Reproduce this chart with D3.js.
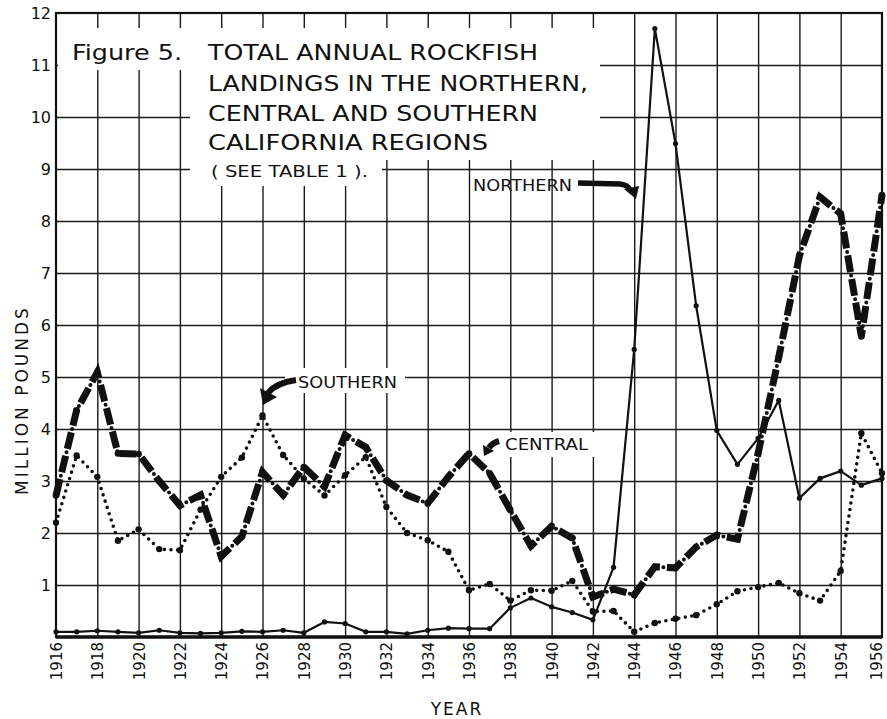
<!DOCTYPE html>
<html>
<head>
<meta charset="utf-8">
<script src="https://cdn.jsdelivr.net/npm/d3@7"></script>
<style>
  html, body { margin: 0; padding: 0; background: #fff; }
  svg text { font-family: "DejaVu Sans", sans-serif; fill: #111; }
</style>
</head>
<body>
<svg id="chart" width="887" height="719"></svg>
<script>
const years = [1916,1917,1918,1919,1920,1921,1922,1923,1924,1925,1926,1927,1928,1929,1930,1931,1932,1933,1934,1935,1936,1937,1938,1939,1940,1941,1942,1943,1944,1945,1946,1947,1948,1949,1950,1951,1952,1953,1954,1955,1956];
const northern = [0.10,0.10,0.12,0.10,0.08,0.13,0.08,0.07,0.08,0.11,0.10,0.13,0.08,0.29,0.26,0.10,0.10,0.06,0.13,0.17,0.16,0.16,0.56,0.75,0.58,0.47,0.33,1.34,5.53,11.7,9.49,6.37,3.97,3.32,3.82,4.55,2.67,3.05,3.19,2.92,3.05];
const central = [2.72,4.36,5.09,3.53,3.52,3.0,2.53,2.73,1.55,1.93,3.17,2.73,3.27,2.89,3.88,3.65,3.01,2.73,2.57,3.08,3.53,3.15,2.44,1.75,2.13,1.9,0.77,0.92,0.81,1.35,1.33,1.73,1.96,1.88,3.53,5.38,7.33,8.46,8.14,5.78,8.5];
const southern = [2.2,3.49,3.08,1.85,2.07,1.69,1.67,2.45,3.08,3.45,4.26,3.5,3.05,2.72,3.11,3.46,2.5,2.0,1.86,1.64,0.9,1.02,0.7,0.9,0.89,1.08,0.49,0.5,0.1,0.27,0.35,0.42,0.63,0.88,0.96,1.04,0.84,0.7,1.27,3.92,3.15];
const yearTicks = [1916,1918,1920,1922,1924,1926,1928,1930,1932,1934,1936,1938,1940,1942,1944,1946,1948,1950,1952,1954,1956];
const valueTicks = [1,2,3,4,5,6,7,8,9,10,11,12];
const titleLines = ["TOTAL ANNUAL ROCKFISH","LANDINGS IN THE NORTHERN,","CENTRAL AND SOUTHERN","CALIFORNIA REGIONS"];

const svg = d3.select("#chart");
const x = d3.scaleLinear().domain([1916,1956]).range([56,882]);
const y = d3.scaleLinear().domain([0,12]).range([637,13]);

// grid
const grid = svg.append("g");
grid.append("g")
  .attr("transform", `translate(0,${y(0)})`)
  .call(d3.axisBottom(x).tickValues(yearTicks.slice(1,-1)).tickSize(-(y(0)-y(12))).tickFormat(""))
  .call(g => g.select(".domain").remove())
  .call(g => g.selectAll("line").attr("stroke","#1a1a1a").attr("stroke-width",1.4));
grid.append("g")
  .attr("transform", `translate(${x(1916)},0)`)
  .call(d3.axisLeft(y).tickValues(valueTicks.slice(0,-1)).tickSize(-(x(1956)-x(1916))).tickFormat(""))
  .call(g => g.select(".domain").remove())
  .call(g => g.selectAll("line").attr("stroke","#1a1a1a").attr("stroke-width",1.4));

// white areas behind title and labels
const white = [
  [58, 28, 190, 70], [190, 28, 600, 160], [190, 160, 382, 186],
  [285, 368, 405, 393], [480, 432, 598, 457]
];
svg.append("g").selectAll("rect").data(white).join("rect")
  .attr("x", d => d[0]).attr("y", d => d[1])
  .attr("width", d => d[2]-d[0]).attr("height", d => d[3]-d[1])
  .attr("fill", "#fff");

// frame
svg.append("rect").attr("x", x(1916)).attr("y", y(12))
  .attr("width", x(1956)-x(1916)).attr("height", y(0)-y(12))
  .attr("fill","none").attr("stroke","#111").attr("stroke-width",2.2);
svg.append("line").attr("x1", x(1916)).attr("x2", x(1956)).attr("y1", y(0)).attr("y2", y(0))
  .attr("stroke","#111").attr("stroke-width",3.5);

// axes labels
const xAxis = svg.append("g").attr("transform", `translate(0,${y(0)})`)
  .call(d3.axisBottom(x).tickValues(yearTicks).tickSize(0).tickPadding(0).tickFormat(d3.format("d")));
xAxis.select(".domain").remove();
xAxis.selectAll("text")
  .attr("font-family","DejaVu Sans").attr("font-size",15).attr("fill","#111")
  .attr("transform","rotate(-90)").attr("text-anchor","end")
  .attr("x", -5).attr("y", d => d === 1956 ? -6 : 0).attr("dy","0.36em");

const yAxis = svg.append("g").attr("transform", `translate(${x(1916)},0)`)
  .call(d3.axisLeft(y).tickValues(valueTicks).tickSize(0).tickPadding(5).tickFormat(d3.format("d")));
yAxis.select(".domain").remove();
yAxis.selectAll("text").attr("font-family","DejaVu Sans").attr("font-size",16).attr("fill","#111");

svg.append("text").attr("transform","translate(28,400) rotate(-90)")
  .attr("text-anchor","middle").attr("font-size",17).attr("letter-spacing",3).text("MILLION POUNDS");
svg.append("text").attr("x",457).attr("y",715)
  .attr("text-anchor","middle").attr("font-size",17).attr("letter-spacing",2).text("YEAR");

// title
svg.append("text").attr("x",72).attr("y",60).attr("font-size",22)
  .attr("textLength",110).attr("lengthAdjust","spacingAndGlyphs").text("Figure 5.");
const titleBase = [60, 90.5, 121, 149.5];
const titleLen = [330, 380, 330, 280];
svg.append("g").selectAll("text").data(titleLines).join("text")
  .attr("x",208).attr("y",(d,i)=>titleBase[i]).attr("font-size",22)
  .attr("textLength",(d,i)=>titleLen[i]).attr("lengthAdjust","spacingAndGlyphs")
  .text(d=>d);
svg.append("text").attr("x",211).attr("y",176.5).attr("font-size",16)
  .attr("textLength",157).attr("lengthAdjust","spacingAndGlyphs").text("( SEE TABLE 1 ).");

// series
const line = (vals) => d3.line().x((d,i)=>x(years[i])).y(d=>y(d))(vals);

// southern dotted
svg.append("path").attr("d", line(southern)).attr("fill","none")
  .attr("stroke","#111").attr("stroke-width",3.6).attr("stroke-linecap","round")
  .attr("stroke-dasharray","0 6.6");
svg.append("g").selectAll("circle").data(southern).join("circle")
  .attr("cx",(d,i)=>x(years[i])).attr("cy",d=>y(d)).attr("r",3.2).attr("fill","#111");

// northern solid
svg.append("path").attr("d", line(northern)).attr("fill","none")
  .attr("stroke","#111").attr("stroke-width",2.2).attr("stroke-linejoin","round");
svg.append("g").selectAll("circle").data(northern).join("circle")
  .attr("cx",(d,i)=>x(years[i])).attr("cy",d=>y(d)).attr("r",2.6).attr("fill","#111");

// central thick dash-dot
svg.append("path").attr("d", line(central)).attr("fill","none")
  .attr("stroke","#111").attr("stroke-width",7).attr("stroke-dasharray","17 7");
svg.append("path").attr("d", line(central)).attr("fill","none")
  .attr("stroke","#111").attr("stroke-width",4).attr("stroke-linecap","round")
  .attr("stroke-dasharray","0 24").attr("stroke-dashoffset",-20.5);
svg.append("g").selectAll("circle").data(central).join("circle")
  .attr("cx",(d,i)=>x(years[i])).attr("cy",d=>y(d)).attr("r",3.3).attr("fill","#111");

// annotations
const ann = svg.append("g");
ann.append("text").attr("x",473).attr("y",191).attr("font-size",15)
  .attr("textLength",99).attr("lengthAdjust","spacingAndGlyphs").text("NORTHERN");
ann.append("path").attr("d","M578,183 L620,184 Q628,185 630,190").attr("fill","none")
  .attr("stroke","#111").attr("stroke-width",5.5);
ann.append("path").attr("d","M624,189 L639,186 L636,199 Z").attr("fill","#111");

ann.append("text").attr("x",298).attr("y",388).attr("font-size",16)
  .attr("textLength",99).attr("lengthAdjust","spacingAndGlyphs").text("SOUTHERN");
ann.append("path").attr("d","M296,380 Q276,383 268,393").attr("fill","none")
  .attr("stroke","#111").attr("stroke-width",6);
ann.append("path").attr("d","M260,388 L277,397 L263,405 Z").attr("fill","#111");

ann.append("text").attr("x",505).attr("y",450).attr("font-size",16)
  .attr("textLength",83).attr("lengthAdjust","spacingAndGlyphs").text("CENTRAL");
ann.append("path").attr("d","M499,441 Q492,443 489,448").attr("fill","none")
  .attr("stroke","#111").attr("stroke-width",6);
ann.append("path").attr("d","M483,445 L494,451 L484,456 Z").attr("fill","#111");
</script>
</body>
</html>
